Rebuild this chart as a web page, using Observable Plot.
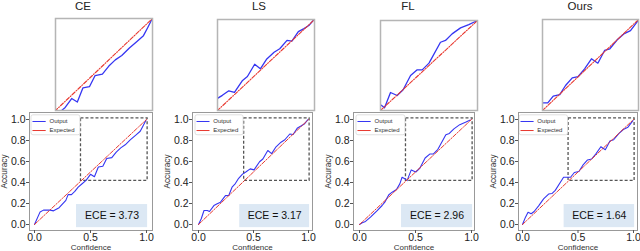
<!DOCTYPE html>
<html><head><meta charset="utf-8">
<script src="https://cdn.jsdelivr.net/npm/d3@7"></script>
<script src="https://cdn.jsdelivr.net/npm/@observablehq/plot@0.6"></script>
<style>
html,body{margin:0;padding:0;background:#fff;}
#chart{position:relative;width:640px;height:251px;overflow:hidden;font-family:"Liberation Sans",Arial,sans-serif;color:#222;}
#chart svg{position:absolute;overflow:visible;background:transparent;}
.title{position:absolute;top:0px;font-size:11.5px;line-height:12px;transform:translateX(-50%);white-space:nowrap;}
</style></head><body><div id="chart"></div>
<script>
// ---- data ----
const methods = ["CE", "LS", "FL", "Ours"];
const eceValues = ["3.73", "3.17", "2.96", "1.64"];
const xTicks = [0, 0.5, 1.0];
const yTicks = [0, 0.2, 0.4, 0.6, 0.8, 1.0];
const legendLabels = ["Output", "Expected"];

const confCE = [0, 0.05, 0.08, 0.14, 0.17, 0.22, 0.28, 0.30, 0.33, 0.36, 0.39, 0.425, 0.46, 0.50, 0.535, 0.57, 0.61, 0.645, 0.69, 0.73, 0.77, 0.81, 0.857, 0.902, 0.944, 0.97, 0.995];
const accCE  = [0, 0.12, 0.137, 0.137, 0.13, 0.16, 0.23, 0.285, 0.285, 0.315, 0.356, 0.388, 0.42, 0.478, 0.455, 0.548, 0.555, 0.628, 0.637, 0.69, 0.73, 0.759, 0.808, 0.849, 0.888, 0.94, 0.992];

const confLS = [0, 0.025, 0.05, 0.08, 0.10, 0.14, 0.17, 0.20, 0.245, 0.275, 0.305, 0.335, 0.365, 0.40, 0.43, 0.47, 0.505, 0.555, 0.585, 0.63, 0.665, 0.705, 0.75, 0.785, 0.83, 0.86, 0.90, 0.935, 0.965, 0.995];
const accLS  = [0, 0.055, 0.133, 0.133, 0.124, 0.18, 0.197, 0.213, 0.275, 0.276, 0.355, 0.39, 0.44, 0.48, 0.50, 0.53, 0.52, 0.598, 0.624, 0.705, 0.675, 0.74, 0.784, 0.807, 0.862, 0.857, 0.92, 0.94, 0.96, 0.998];

const confFL = [0, 0.024, 0.054, 0.098, 0.158, 0.202, 0.226, 0.262, 0.292, 0.33, 0.36, 0.38, 0.405, 0.425, 0.462, 0.503, 0.54, 0.586, 0.627, 0.658, 0.70, 0.771, 0.802, 0.843, 0.895, 0.946, 0.99];
const accFL  = [0, 0.016, 0.029, 0.07, 0.133, 0.181, 0.213, 0.283, 0.308, 0.333, 0.387, 0.45, 0.435, 0.418, 0.52, 0.50, 0.538, 0.633, 0.671, 0.671, 0.716, 0.855, 0.867, 0.911, 0.951, 0.973, 0.995];

const confOurs = [0, 0.027, 0.05, 0.078, 0.105, 0.147, 0.19, 0.235, 0.265, 0.295, 0.34, 0.37, 0.405, 0.433, 0.467, 0.508, 0.544, 0.586, 0.623, 0.663, 0.706, 0.746, 0.788, 0.821, 0.867, 0.908, 0.95, 0.995];
const accOurs  = [0, 0.07, 0.117, 0.102, 0.124, 0.18, 0.244, 0.29, 0.295, 0.325, 0.40, 0.45, 0.45, 0.45, 0.495, 0.505, 0.565, 0.615, 0.624, 0.675, 0.741, 0.712, 0.796, 0.807, 0.866, 0.905, 0.927, 0.99];

const expectedConf = [0, 1];
const expectedAcc = [0, 1];

// ---- layout (pixel geometry, separate from data) ----
const layout = [
  {L: 29,  R: 152, x0: 34,  x1: 146, inset: [55, 152, 18, 110],  titleX: 83},
  {L: 192, R: 312, x0: 198, x1: 308, inset: [217, 314, 19, 110], titleX: 259},
  {L: 353, R: 474, x0: 359, x1: 471, inset: [380, 477, 20, 110], titleX: 408},
  {L: 518, R: 637, x0: 522, x1: 633, inset: [542, 638, 19, 110], titleX: 580}
];
const frameTop = 112, frameBottom = 230, yPx0 = 224, yPx1 = 119;
const zoomRegion = {x1: 0.415, x2: 1.01, y1: 0.415, y2: 1.01};
const eceRegion = {x1: 0.375, x2: 1.01, y1: -0.03, y2: 0.19};
const legendRegion = {x1: -0.027, x2: 0.41, y1: 0.85, y2: 1.04, lx1: -0.018, lx2: 0.10, tx: 0.134, rows: [0.981, 0.895]};
const insetDomain = [0.4, 1.0];

const BLUE = "#3535f2", RED = "#e8382f";
const series = [[confCE, accCE], [confLS, accLS], [confFL, accFL], [confOurs, accOurs]];
const expected = expectedConf.map((c, i) => ({c, a: expectedAcc[i]}));

const chart = document.getElementById("chart");

methods.forEach((m, i) => {
  const lay = layout[i];
  const rows = series[i][0].map((c, j) => ({c, a: series[i][1][j]}));
  const left = lay.L - 30;
  const width = lay.R - left + 3;

  const legendLines = legendLabels.map((lab, k) => ({lab, y: legendRegion.rows[k]}));

  const main = Plot.plot({
    width, height: 251,
    marginLeft: 30, marginRight: 3, marginTop: frameTop, marginBottom: 251 - frameBottom,
    x: {domain: [0, 1], range: [lay.x0 - left, lay.x1 - left]},
    y: {domain: [0, 1], range: [yPx0, yPx1]},
    style: {fontFamily: "'Liberation Sans', Arial, sans-serif", fontSize: "10.5px", color: "#222", background: "transparent"},
    marks: [
      Plot.rect([eceRegion], {x1: "x1", x2: "x2", y1: "y1", y2: "y2", fill: "#dce8f4"}),
      Plot.text([eceValues[i]], {x: (eceRegion.x1 + eceRegion.x2) / 2, y: (eceRegion.y1 + eceRegion.y2) / 2, text: d => `ECE = ${d}`, fontSize: 10.5, fill: "#111"}),
      Plot.rect([zoomRegion], {x1: "x1", x2: "x2", y1: "y1", y2: "y2", fill: "none", stroke: "#555", strokeWidth: 1.3, strokeDasharray: "3,2"}),
      Plot.line(rows, {x: "c", y: "a", stroke: BLUE, strokeWidth: 1.1}),
      Plot.line(expected, {x: "c", y: "a", stroke: RED, strokeWidth: 1, strokeDasharray: "4,1.5,1,1.5"}),
      // legend
      Plot.rect([legendRegion], {x1: "x1", x2: "x2", y1: "y1", y2: "y2", fill: "white", fillOpacity: 0.85, stroke: "#d8d8d8", strokeWidth: 0.8, rx: 2}),
      Plot.link(legendLines, {x1: legendRegion.lx1, x2: legendRegion.lx2, y1: "y", y2: "y", stroke: (d) => d.lab, strokeWidth: 1, strokeDasharray: d => d.lab === "Output" ? null : "3,1.2,1,1.2"}),
      Plot.text(legendLines, {x: legendRegion.tx, y: "y", text: "lab", textAnchor: "start", fontSize: 6, fill: "#333"}),
      Plot.frame({stroke: "#999", strokeWidth: 1}),
      Plot.axisX({ticks: xTicks, tickFormat: d3.format(".1f"), tickSize: 3, tickPadding: 0, label: null, stroke: "#555"}),
      Plot.axisY({ticks: yTicks, tickFormat: d3.format(".1f"), tickSize: 3, tickPadding: 1, label: null, stroke: "#555"}),
      Plot.text(["Confidence"], {frameAnchor: "bottom", lineAnchor: "middle", textAnchor: "middle", dy: 16.5, fontSize: 8, fill: "#333"}),
      Plot.text(["Accuracy"], {frameAnchor: "left", lineAnchor: "middle", textAnchor: "middle", dx: -25, rotate: -90, fontSize: 8.3, fill: "#333"})
    ],
    color: {domain: legendLabels, range: [BLUE, RED]}
  });
  main.style.left = left + "px";
  main.style.top = "0px";
  chart.appendChild(main);

  const [iL, iR, iT, iB] = lay.inset;
  const inset = Plot.plot({
    width: iR - iL, height: iB - iT,
    margin: 0,
    x: {domain: insetDomain, axis: null},
    y: {domain: insetDomain, axis: null},
    style: {background: "transparent"},
    marks: [
      Plot.line(rows, {x: "c", y: "a", stroke: BLUE, strokeWidth: 1.3, clip: true}),
      Plot.line(expected, {x: "c", y: "a", stroke: RED, strokeWidth: 1.1, strokeDasharray: "4,1.5,1,1.5", clip: true}),
      Plot.frame({stroke: "#b5b5b5", strokeWidth: 1.5})
    ]
  });
  inset.style.left = iL + "px";
  inset.style.top = iT + "px";
  chart.appendChild(inset);

  const t = document.createElement("div");
  t.className = "title";
  t.textContent = m;
  t.style.left = lay.titleX + "px";
  chart.appendChild(t);
});
</script></body></html>
